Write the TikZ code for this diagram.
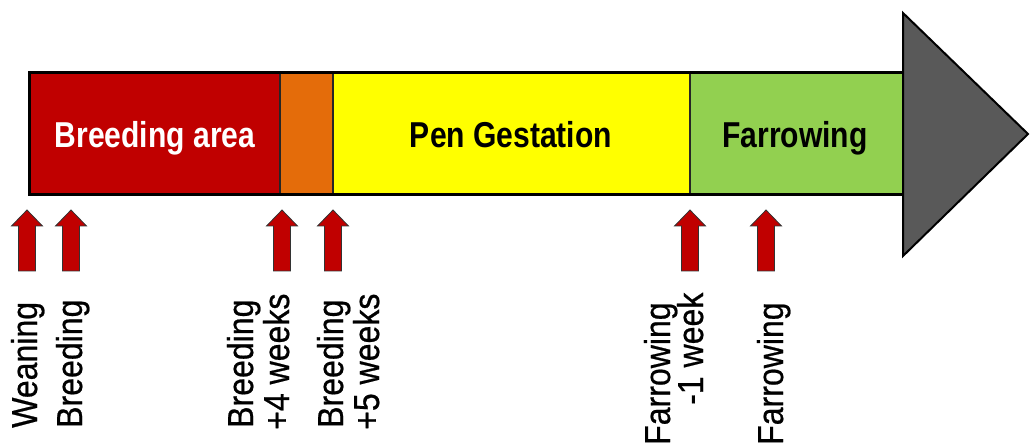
\documentclass[tikz,border=0pt]{standalone}
\usepackage{fontspec}
\setmainfont{Liberation Sans}
\newfontfamily\lblfont[FakeStretch=0.89,FakeBold=0.6]{Liberation Sans}
\newfontfamily\barfont[FakeStretch=0.835]{Liberation Sans}
\definecolor{segred}{HTML}{C00000}
\definecolor{segorange}{HTML}{E46C0A}
\definecolor{segyellow}{HTML}{FFFF00}
\definecolor{seggreen}{HTML}{92D050}
\definecolor{tipgray}{HTML}{595959}
\definecolor{arrred}{HTML}{C00000}
\tikzset{
  seg/.style={draw=black!85, line width=1.6pt, inner sep=0pt, minimum height=121pt},
  barlbl/.style={font=\barfont\bfseries\fontsize{36}{40}\selectfont, inner sep=0pt, anchor=base},
  lbl/.style={font=\lblfont\fontsize{36}{40}\selectfont, inner sep=0pt, rotate=90, anchor=base west},
  uparrow/.style={fill=arrred, draw=black!80, line width=0.8pt, line join=miter},
}
\begin{document}
\begin{tikzpicture}[x=1pt,y=-1pt]
\useasboundingbox (0,0) rectangle (1030,446);
% bar segments
\node[seg, fill=segred, minimum width=250pt] (sred) at (155,133.5) {};
\node[seg, fill=segorange, minimum width=53pt] (sorange) at (306.5,133.5) {};
\node[seg, fill=segyellow, minimum width=357pt] (syellow) at (511.5,133.5) {};
\node[seg, fill=seggreen, minimum width=213pt] (sgreen) at (796.5,133.5) {};
\draw[line width=3pt, line join=miter] (sred.north west) rectangle (sgreen.south east);
% arrow head of timeline
\draw[fill=tipgray, line width=2pt, line join=miter] (903,13) -- (1028,134) -- (903,256) -- cycle;
% bar labels
\node[barlbl, text=white] (tbreed) at (155,148) {Breeding area};
\node[barlbl] (tpen) at (511,148) {Pen Gestation};
\node[barlbl] (tfar) at (795,148) {Farrowing};
% small up arrows
\foreach \cx/\nm in {27/a1, 71/a2, 282/a3, 333/a4, 690/a5, 766/a6}{
  \draw[uparrow] (\cx-8.5,271) -- (\cx-8.5,226) -- (\cx-15.5,226) -- (\cx,210)
     -- (\cx+15.5,226) -- (\cx+8.5,226) -- (\cx+8.5,271) -- cycle;
  \coordinate (\nm) at (\cx,240);
}
% labels
\node[lbl] (lwean) at (37,428) {Weaning};
\node[lbl] (lbreed) at (82,428) {Breeding};
\node[lbl] (lb4a) at (253,428) {Breeding};
\node[lbl] (lb4b) at (289,430) {+4 weeks};
\node[lbl] (lb5a) at (343,428) {Breeding};
\node[lbl] (lb5b) at (379,430) {+5 weeks};
\node[lbl] (lf1a) at (670,445) {Farrowing};
\node[lbl] (lf1b) at (703,405) {-1 week};
\node[lbl] (lfar) at (783,445) {Farrowing};
\end{tikzpicture}
\end{document}
